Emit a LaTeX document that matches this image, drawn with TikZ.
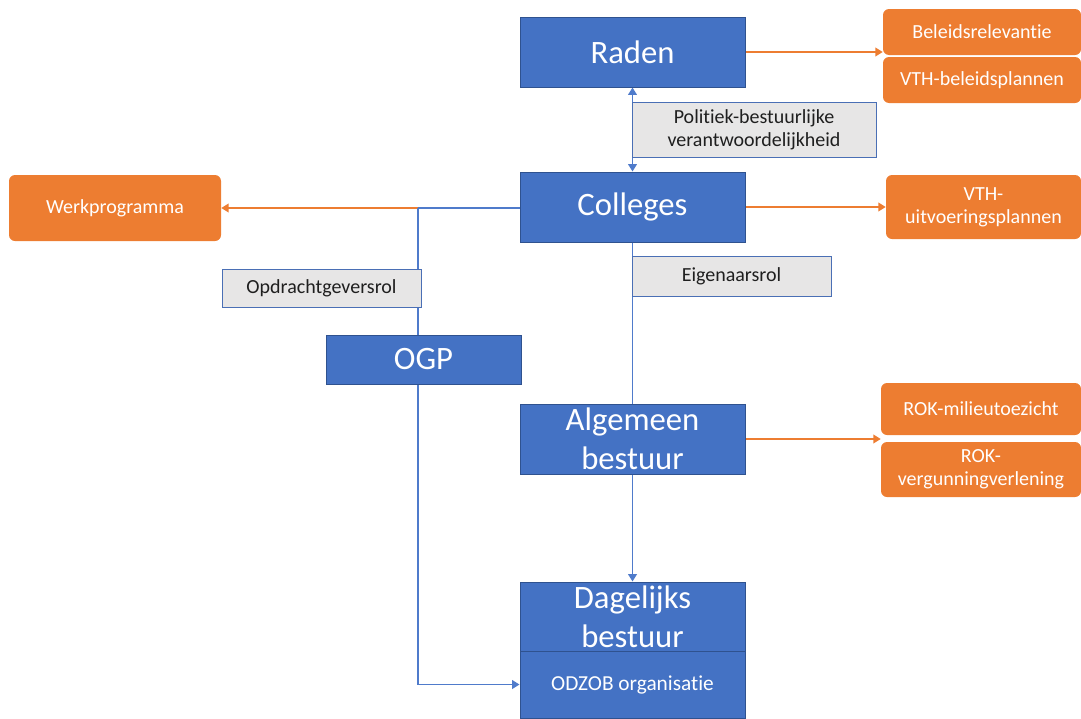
\documentclass[tikz,border=0pt]{standalone}
\usepackage{fontspec}
\setmainfont{Carlito}[Ligatures=NoCommon]
\usetikzlibrary{arrows.meta,backgrounds}
\definecolor{bfill}{HTML}{4472C4}
\definecolor{bdraw}{HTML}{2F528F}
\definecolor{ofill}{HTML}{ED7D31}
\definecolor{gfill}{HTML}{E7E6E6}
\definecolor{gdraw}{HTML}{4A6FB5}
\definecolor{ltext}{HTML}{1F1F1F}
\definecolor{blink}{HTML}{4F7BCB}
\definecolor{olink}{HTML}{ED7D31}
\begin{document}
\begin{tikzpicture}[x=0.75pt,y=-0.75pt,
  sz/.style 2 args={minimum width=#1*0.75pt, minimum height=#2*0.75pt},
  bigfont/.style={font=\fontsize{24.5}{29}\selectfont},
  bluebox/.style={draw=bdraw, fill=bfill, line width=0.75pt, inner sep=0pt, text=white, bigfont, align=center},
  bigtext/.style={text=white, bigfont, align=center, inner sep=0pt},
  orangebox/.style={fill=ofill, rounded corners=4.5pt, inner sep=0pt, text=white, font=\fontsize{15}{17}\selectfont, align=center},
  graylabel/.style={draw=gdraw, fill=gfill, line width=0.75pt, inner sep=0pt, text=ltext, font=\fontsize{15}{17}\selectfont, align=center},
  bline/.style={draw=blink, line width=1.1pt},
  oline/.style={draw=olink, line width=1.1pt},
  tip/.style={-{Triangle[width=6.5pt,length=5.5pt]}},
  tips/.style={{Triangle[width=6.5pt,length=5.5pt]}-{Triangle[width=6.5pt,length=5.5pt]}}
]
\useasboundingbox (0,0) rectangle (1081,718);

% blue boxes
\node[bluebox, sz={225}{70}] (raden) at (632.5,52) {Raden};
\node[bluebox, sz={225}{70}, text height=17pt, text depth=5pt] (colleges) at (632.5,207) {Colleges};
\node[bluebox, sz={195}{49}] (ogp) at (423.5,359.5) {OGP};
\node[bluebox, sz={225}{70}, label={[bigtext]center:Algemeen\\bestuur}] (alg) at (632.5,439) {};
\node[bluebox, sz={225}{69}, label={[bigtext]center:Dagelijks\\bestuur}] (dag) at (632.5,616.5) {};
\node[bluebox, sz={225}{67}, font=\fontsize{16}{19}\selectfont] (odzob) at (632.5,684.5) {ODZOB organisatie};

% gray labels
\node[graylabel, sz={244}{55}] (pol) at (754,129.5) {Politiek-bestuurlijke\\verantwoordelijkheid};
\node[graylabel, sz={199}{38}] (opd) at (321.5,288.5) {Opdrachtgeversrol};
\node[graylabel, sz={199}{40}] (eig) at (731.5,276) {Eigenaarsrol};

% orange boxes
\node[orangebox, sz={198}{46}] (bel) at (982,32) {Beleidsrelevantie};
\node[orangebox, sz={198}{46}] (vthb) at (982,80) {VTH-beleidsplannen};
\node[orangebox, sz={195}{64}] (vthu) at (983.5,207) {VTH-\\uitvoeringsplannen};
\node[orangebox, sz={212}{66}] (werk) at (115,208) {Werkprogramma};
\node[orangebox, sz={200}{52}] (rokm) at (981,409) {ROK-milieutoezicht};
\node[orangebox, sz={200}{55}] (rokv) at (981,469.5) {ROK-\\vergunningverlening};

\coordinate (j1) at (418,208);

\begin{scope}[on background layer]
  \draw[bline, tips] (raden.south) -- (colleges.north);
  \draw[oline, tip] (raden.east) -- (raden.east -| bel.west);
  \draw[oline, tip] (colleges.east) -- (colleges.east -| vthu.west);
  \draw[bline] (colleges.west |- j1) -- (j1);
  \draw[oline, tip] (j1) -- (werk.east);
  \draw[bline, tip] (j1) |- (odzob.west);
  \draw[bline] (colleges.south) -- (alg.north);
  \draw[bline, tip] (alg.south) -- (dag.north);
  \draw[oline, tip] (alg.east) -- (alg.east -| rokm.west);
\end{scope}
\end{tikzpicture}
\end{document}
